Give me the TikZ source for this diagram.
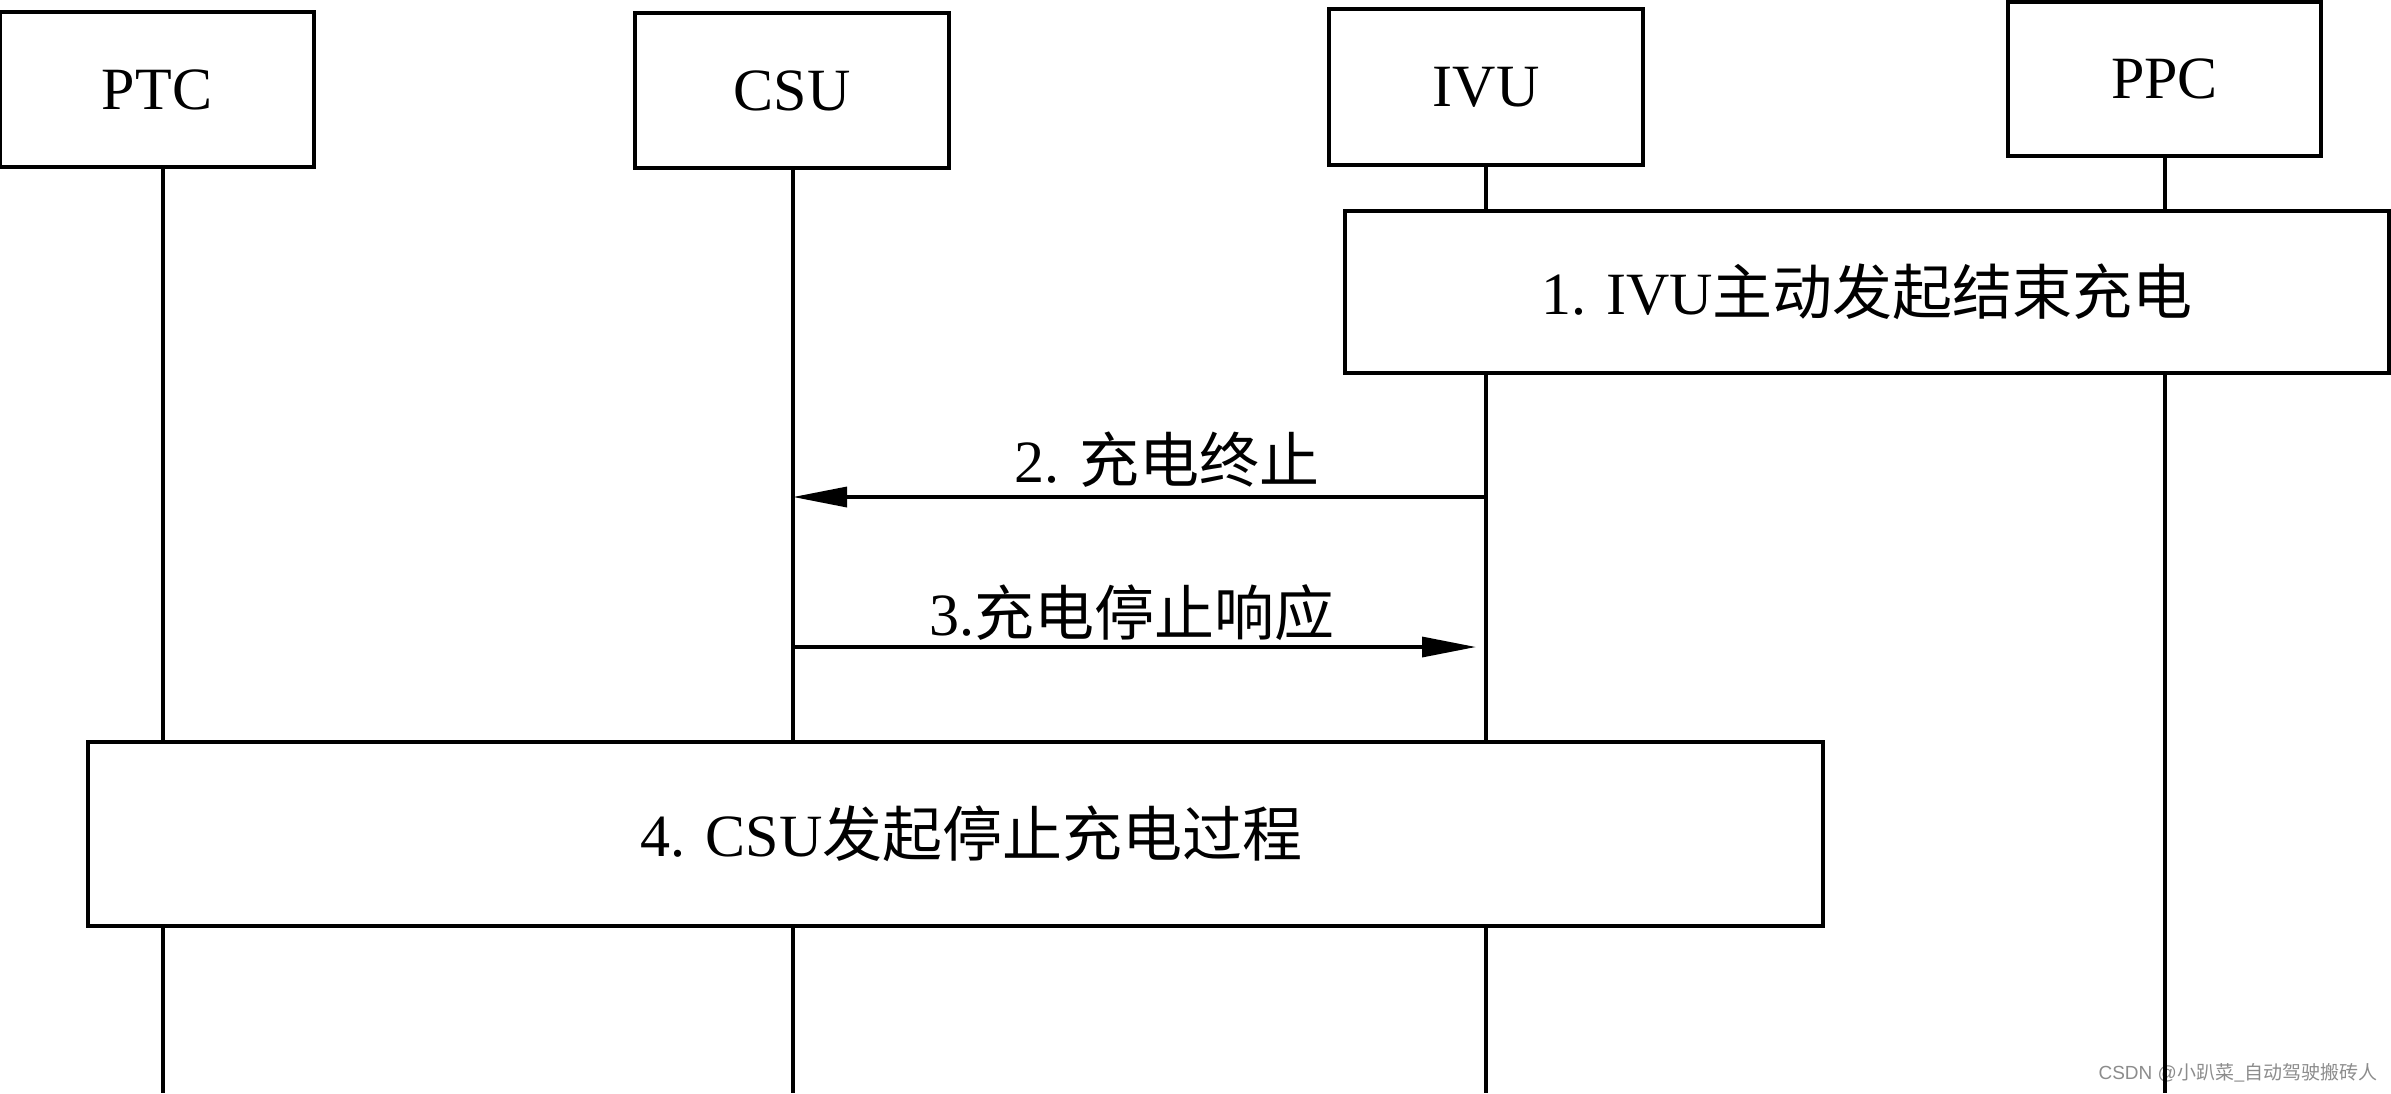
\documentclass[tikz,border=0pt]{standalone}
\usepackage{fontspec}
\setmainfont{Liberation Serif}
\newfontfamily\cjk{Noto Sans CJK SC}
\newfontfamily\wmfont{Liberation Sans}
\usetikzlibrary{arrows.meta}
\begin{document}
\begin{tikzpicture}[x=0.5pt,y=-0.5pt,
  actor/.style={draw, line width=2.3pt, fill=white, inner sep=0pt, font=\fontsize{30}{36}\selectfont},
  life/.style={line width=1.6pt},
  msg/.style={line width=1.7pt, -{Triangle[length=27pt,width=10pt]}},
  lbl/.style={font=\fontsize{30}{36}\selectfont, inner sep=0pt},
  wm/.style={font=\wmfont\fontsize{9.5}{11}\selectfont, text=black!45, inner sep=0pt}]
\useasboundingbox (0,0) rectangle (2391,1093);
% watermark
\node[wm, anchor=east] (wmark) at (2378,1073) {CSDN\ @{\cjk 小趴菜\_自动驾驶搬砖人}};
% actors
\node[actor, minimum width=157pt, minimum height=77.5pt] (ptc) at (157,89.5) {PTC};
\node[actor, minimum width=157pt, minimum height=77.5pt] (csu) at (792,90.5) {CSU};
\node[actor, minimum width=157pt, minimum height=78pt] (ivu) at (1486,87) {IVU};
\node[actor, minimum width=156.5pt, minimum height=77pt] (ppc) at (2164.5,79) {PPC};
% lifeline ends
\coordinate (ptcEnd) at (163,1093);
\coordinate (csuEnd) at (793,1093);
\coordinate (ivuEnd) at (1486,1093);
\coordinate (ppcEnd) at (2165,1093);
\draw[life] (ptc.south -| ptcEnd) -- (ptcEnd);
\draw[life] (csu.south -| csuEnd) -- (csuEnd);
\draw[life] (ivu.south -| ivuEnd) -- (ivuEnd);
\draw[life] (ppc.south -| ppcEnd) -- (ppcEnd);
% step boxes
\node[actor, minimum width=522pt, minimum height=81pt] (s1) at (1867,292) {1. IVU{\cjk 主动发起结束充电}};
\node[actor, minimum width=867.5pt, minimum height=92pt] (s4) at (955.5,834) {\hspace{16pt}4. CSU{\cjk 发起停止充电过程}};
% messages
\coordinate (m2a) at (1486,497);
\coordinate (m2b) at (793,497);
\coordinate (m3a) at (793,647);
\coordinate (m3b) at (1486,647);
\draw[msg] (m2a) -- (m2b);
\draw[msg, shorten >=5pt] (m3a) -- (m3b);
\node[lbl] (l2) at (1167,460) {2. {\cjk 充电终止}};
\node[lbl] (l3) at (1132,613) {3.{\cjk 充电停止响应}};
\end{tikzpicture}
\end{document}
